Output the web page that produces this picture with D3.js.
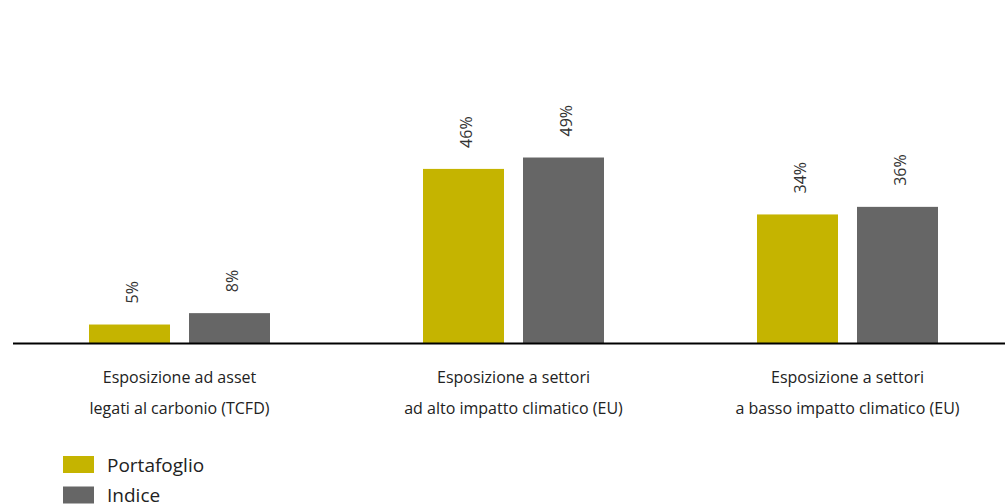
<!DOCTYPE html>
<html>
<head>
<meta charset="utf-8">
<script src="https://cdn.jsdelivr.net/npm/d3@7"></script>
<style>
  html, body { margin: 0; padding: 0; background: #fff; }
  svg { display: block; }
  text { font-family: "Open Sans", "DejaVu Sans", sans-serif; }
</style>
</head>
<body>
<svg id="chart" width="1005" height="504"></svg>
<script>
// Categories (two text lines each), series and values in percent
const categories = [
  ["Esposizione ad asset", "legati al carbonio (TCFD)"],
  ["Esposizione a settori", "ad alto impatto climatico (EU)"],
  ["Esposizione a settori", "a basso impatto climatico (EU)"]
];
const seriesNames = ["Portafoglio", "Indice"];
const portafoglio = [5, 46, 34];
const indice = [8, 49, 36];
const seriesColors = ["#C5B400", "#666666"];

const svg = d3.select("#chart");
const baseY = 343.5;

const catKeys = categories.map((c, i) => i);
const x0 = d3.scaleBand().domain(catKeys).range([12.5, 1014.5]).paddingInner(0).paddingOuter(0);
const x1 = d3.scaleBand().domain(seriesNames).range([-90.5, 90.5]).paddingInner(0.19).paddingOuter(0);
const y = d3.scaleLinear().domain([0, 90.5]).range([baseY, 0]);

const seriesValues = [portafoglio, indice];
const color = d3.scaleOrdinal().domain(seriesNames).range(seriesColors);

const rows = [];
catKeys.forEach(ci => {
  seriesNames.forEach((s, si) => rows.push({ ci, s, v: seriesValues[si][ci] }));
});

const g = svg.append("g");

// Bars
g.selectAll("rect.bar").data(rows).join("rect")
  .attr("class", "bar")
  .attr("x", d => x0(d.ci) + x0.bandwidth() / 2 + x1(d.s))
  .attr("width", x1.bandwidth())
  .attr("y", d => y(d.v))
  .attr("height", d => y(0) - y(d.v))
  .attr("fill", d => color(d.s));

// Value labels, rotated
g.selectAll("text.val").data(rows).join("text")
  .attr("class", "val")
  .attr("transform", d => {
    const cx = x0(d.ci) + x0.bandwidth() / 2 + x1(d.s) + x1.bandwidth() / 2;
    return `translate(${cx},${y(d.v) - 21}) rotate(-90)`;
  })
  .attr("dy", "0.5em")
  .attr("text-anchor", "start")
  .attr("font-size", 16)
  .attr("fill", "#333")
  .text(d => d.v + "%");

// Baseline
g.append("line")
  .attr("x1", 13).attr("x2", 1005)
  .attr("y1", baseY).attr("y2", baseY)
  .attr("stroke", "#000").attr("stroke-width", 2);

// Category labels
const catText = g.selectAll("text.cat").data(categories).join("text")
  .attr("class", "cat")
  .attr("text-anchor", "middle")
  .attr("font-size", 16)
  .attr("fill", "#222");
catText.each(function(lines, i) {
  const cx = x0(i) + x0.bandwidth() / 2;
  d3.select(this).selectAll("tspan").data(lines).join("tspan")
    .attr("x", cx)
    .attr("y", (l, j) => 383 + j * 31)
    .text(l => l);
});

// Legend
const legend = g.append("g").attr("transform", "translate(63,456)");
seriesNames.forEach((s, i) => {
  const row = legend.append("g").attr("transform", `translate(0,${i * 30.5})`);
  row.append("rect").attr("width", 31).attr("height", 17).attr("fill", color(s));
  row.append("text").attr("x", 44).attr("y", 15.5)
    .attr("font-size", 19).attr("fill", "#222").text(s);
});
</script>
</body>
</html>
